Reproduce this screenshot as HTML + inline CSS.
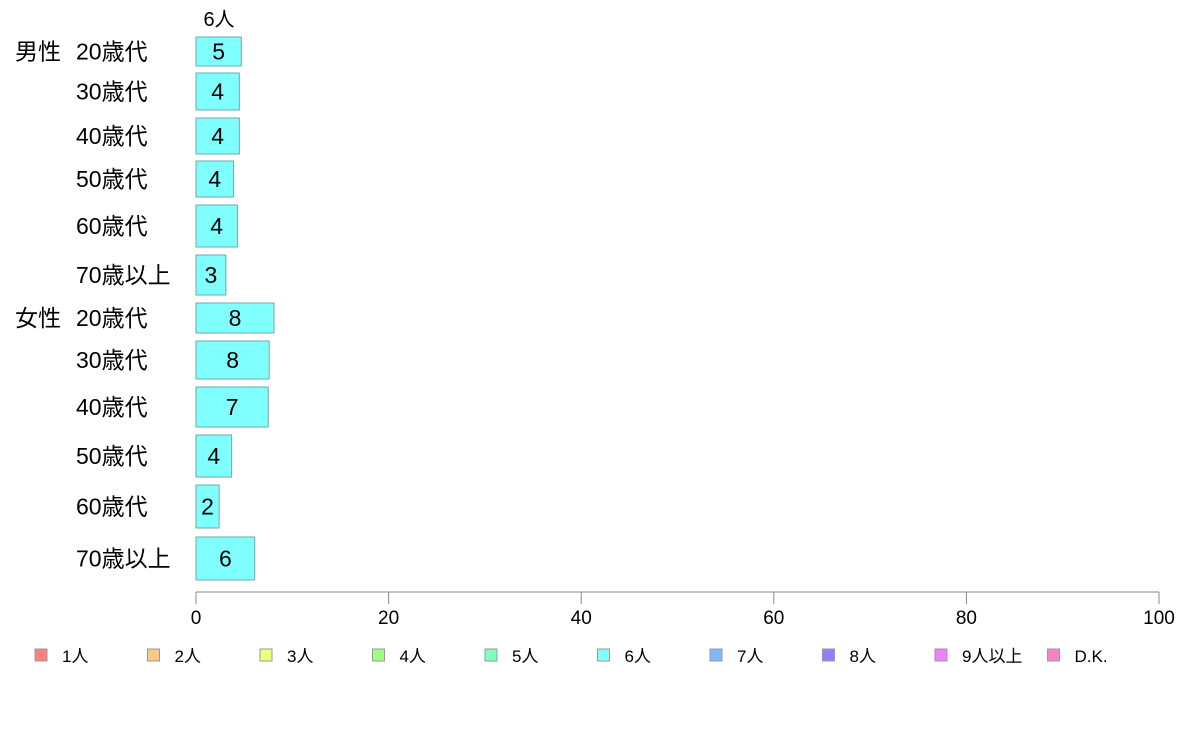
<!DOCTYPE html>
<html><head><meta charset="utf-8"><style>
body{margin:0;background:#fff;}
svg text{font-family:"Liberation Sans","Noto Sans CJK JP",sans-serif;fill:#000;}
</style></head><body>
<svg id="chart" width="1188" height="736"></svg>
<script>
const groups=["男性","","","","","","女性","","","","",""];
const categories=["20歳代","30歳代","40歳代","50歳代","60歳代","70歳以上","20歳代","30歳代","40歳代","50歳代","60歳代","70歳以上"];
const values=[4.7,4.5,4.5,3.9,4.3,3.1,8.1,7.6,7.5,3.7,2.4,6.1];
const labels=["5","4","4","4","4","3","8","8","7","4","2","6"];
const ticks=[0,20,40,60,80,100];
const legendItems=["1人","2人","3人","4人","5人","6人","7人","8人","9人以上","D.K."];
const legendColors=["#ff8080","#ffc880","#f0ff80","#a0ff80","#80ffc0","#80ffff","#80b8ff","#9080ff","#f080ff","#ff80c8"];
// layout (pixel) arrays
const rowTop=[37,73,118,161,205,255,303,341,387,435,485,537];
const rowBot=[66,110,154,197,247,295,333,379,427,477,528,580];
const NS="http://www.w3.org/2000/svg";
const svg=document.getElementById('chart');
const x0=196,x1=1159;
const xs=v=>x0+(x1-x0)*v/100;
function mk(t,a){const e=document.createElementNS(NS,t);for(const k in a)e.setAttribute(k,a[k]);svg.appendChild(e);return e;}
let t=mk('text',{x:219,y:26,'font-size':20,'text-anchor':'middle'});t.textContent="6人";


values.forEach((v,i)=>{
  const r=mk('rect',{x:x0,y:rowTop[i],width:xs(v)-x0,height:rowBot[i]-rowTop[i],fill:'#80ffff',stroke:'#70a8a8','stroke-width':1});
  
  
  const cy=(rowTop[i]+rowBot[i])/2+8;
  const l=mk('text',{x:(x0+xs(v))/2,y:cy,'font-size':23,'text-anchor':'middle'});l.textContent=labels[i];
  
  
  const c=mk('text',{x:76,y:cy,'font-size':23});c.textContent=categories[i];
  
  
  if(groups[i]){const g=mk('text',{x:15,y:cy,'font-size':23});g.textContent=groups[i];
    
    }
});
const ax=mk('line',{x1:x0,y1:592,x2:x1,y2:592,stroke:'#888','stroke-width':1});


ticks.forEach(v=>{
  const tk=mk('line',{x1:xs(v),y1:592,x2:xs(v),y2:604,stroke:'#888','stroke-width':1});
  
  
  const tl=mk('text',{x:xs(v),y:624,'font-size':19,'text-anchor':'middle'});tl.textContent=v;
  
  
});
legendItems.forEach((n,i)=>{
  const lx=35+i*112.5;
  const s=mk('rect',{x:lx,y:649,width:12,height:12,fill:legendColors[i],stroke:'#999','stroke-width':1});
  
  
  const lt=mk('text',{x:lx+27,y:662,'font-size':17});lt.textContent=n;
  
  
});
</script>
</body></html>
